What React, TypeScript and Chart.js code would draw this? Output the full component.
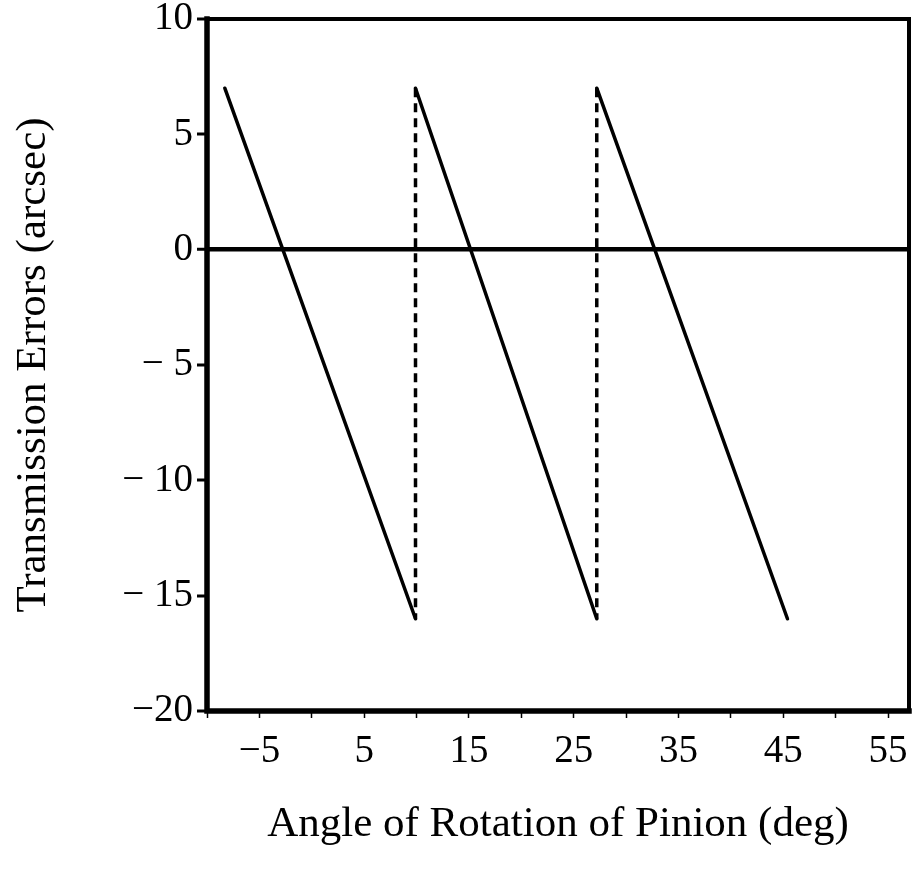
import React, { useEffect, useRef } from "react";
import { Chart, registerables } from "chart.js";

Chart.register(...registerables);

// Tooth-mesh segments (deg, arcsec)
const segStartAngle = [-8.3, 9.9, 27.2];
const segEndAngle = [9.9, 27.2, 45.4];
const segStartError = [7, 7, 7];
const segEndError = [-16, -16, -16];
// Dashed jumps between teeth
const jumpAngle = [9.9, 27.2];
const jumpTop = [7, 7];
const jumpBottom = [-16, -16];

const xTickValues = [-5, 5, 15, 25, 35, 45, 55];
const xTickLabels = ["\u22125", "5", "15", "25", "35", "45", "55"];
const yTickValues = [10, 5, 0, -5, -10, -15, -20];
const yTickLabels = ["10", "5", "0", "\u2212 5", "\u2212 10", "\u2212 15", "\u221220"];

const FONT = "'Liberation Serif', serif";

export default function App() {
  const ref = useRef<HTMLCanvasElement | null>(null);

  useEffect(() => {
    if (!ref.current) return;
    const datasets: any[] = [];
    segStartAngle.forEach((s, i) => {
      datasets.push({
        data: [
          { x: s, y: segStartError[i] },
          { x: segEndAngle[i], y: segEndError[i] },
        ],
        borderColor: "#000",
        borderWidth: 3.5,
        pointRadius: 0,
        borderCapStyle: "round",
      });
    });
    jumpAngle.forEach((a, i) => {
      datasets.push({
        data: [
          { x: a, y: jumpTop[i] },
          { x: a, y: jumpBottom[i] },
        ],
        borderColor: "#000",
        borderWidth: 3.5,
        borderDash: [9, 6],
        pointRadius: 0,
      });
    });

    const framePlugin = {
      id: "frame",
      afterDraw(chart: any) {
        const { ctx, chartArea: a } = chart;
        ctx.save();
        ctx.strokeStyle = "#000";
        ctx.lineCap = "square";
        ctx.lineWidth = 4;
        ctx.beginPath();
        ctx.moveTo(a.left, a.top);
        ctx.lineTo(a.right, a.top);
        ctx.lineTo(a.right, a.bottom);
        ctx.stroke();
        ctx.lineWidth = 5.5;
        ctx.beginPath();
        ctx.moveTo(a.left, a.top);
        ctx.lineTo(a.left, a.bottom);
        ctx.lineTo(a.right, a.bottom);
        ctx.stroke();
        ctx.restore();
      },
    };

    const chart = new Chart(ref.current, {
      type: "line",
      data: { datasets },
      plugins: [framePlugin],
      options: {
        animation: false,
        responsive: false,
        maintainAspectRatio: false,
        layout: { padding: { top: 19, right: 6, left: 0, bottom: 0 } },
        plugins: { legend: { display: false }, tooltip: { enabled: false } },
        scales: {
          x: {
            type: "linear",
            min: -10,
            max: 57,
            border: { display: false },
            afterFit: (s: any) => {
              s.height = 164;
              s.paddingLeft = 0;
              s.paddingRight = 0;
            },
            ticks: {
              stepSize: 5,
              includeBounds: false,
              autoSkip: false,
              maxRotation: 0,
              color: "#000",
              padding: 10,
              font: { family: FONT, size: 39 },
              callback: (v: any) => {
                const i = xTickValues.indexOf(Number(v));
                return i >= 0 ? xTickLabels[i] : "";
              },
            },
            grid: {
              drawOnChartArea: false,
              tickLength: 7,
              tickWidth: 1.5,
              tickColor: "#000",
            },
            title: {
              display: true,
              text: "Angle of Rotation of Pinion (deg)",
              color: "#000",
              font: { family: FONT, size: 43, weight: "normal" },
              padding: { top: 0, bottom: 24 },
            },
          },
          y: {
            type: "linear",
            min: -20,
            max: 10,
            border: { display: false },
            afterFit: (s: any) => {
              s.width = 207;
              s.paddingTop = 0;
              s.paddingBottom = 0;
            },
            ticks: {
              stepSize: 5,
              autoSkip: false,
              color: "#000",
              padding: 4,
              font: { family: FONT, size: 39 },
              callback: (v: any) => {
                const i = yTickValues.indexOf(Number(v));
                return i >= 0 ? yTickLabels[i] : "";
              },
            },
            grid: {
              color: (c: any) => (c.tick && c.tick.value === 0 ? "#000" : "rgba(0,0,0,0)"),
              lineWidth: (c: any) => (c.tick && c.tick.value === 0 ? 4.5 : 0),
              tickLength: 10,
              tickWidth: 3,
              tickColor: "#000",
            },
            title: {
              display: true,
              text: "Transmission Errors (arcsec)",
              color: "#000",
              font: { family: FONT, size: 43, weight: "normal" },
              padding: { top: 8, bottom: 0 },
            },
          },
        },
      },
    });
    return () => chart.destroy();
  }, []);

  return (
    <div style={{ position: "absolute", left: 0, top: 0, width: 915, height: 875, background: "#fff" }}>
      <canvas ref={ref} width={915} height={875} style={{ width: 915, height: 875, display: "block" }} />
    </div>
  );
}
